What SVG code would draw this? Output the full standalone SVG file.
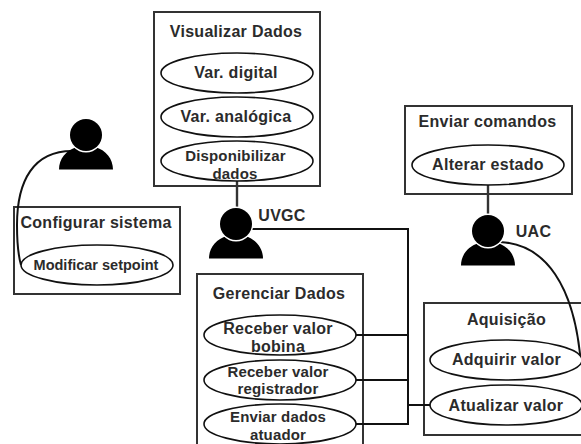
<svg xmlns="http://www.w3.org/2000/svg" width="581" height="444" viewBox="0 0 581 444">
<defs>
<g id="actor"><path d="M-27 34.500 C-27 24 -20 15 -9 12 C-5 17 5 17 9 12 C20 15 27 24 27 34.500 Z" fill="#000"/><circle cx="0" cy="0" r="17.500" fill="#fff"/><circle cx="0" cy="0" r="16" fill="#000"/></g>
</defs>
<style>
.box{fill:#fff;stroke:#333;stroke-width:2}
.uc{fill:#fff;stroke:#111;stroke-width:1.6}
.c{fill:none;stroke:#111;stroke-width:2}
.c2{fill:none;stroke:#333;stroke-width:2.4}
text{font-family:"Liberation Sans",Arial,sans-serif;font-weight:700;font-size:16px;letter-spacing:.3px;fill:#2b2b2b;text-anchor:middle}
.s{font-size:15px;letter-spacing:.15px}
</style>
<rect width="581" height="444" fill="#fff"/>
<g id="box-visualizar"><rect class="box" x="154" y="12" width="166" height="174"/><text x="236" y="37">Visualizar Dados</text></g>
<g id="box-configurar"><rect class="box" x="14" y="207" width="166" height="87"/><text x="96" y="228">Configurar sistema</text></g>
<g id="box-gerenciar"><rect class="box" x="197" y="274" width="166" height="180"/><text x="279" y="299">Gerenciar Dados</text></g>
<g id="box-aquisicao"><rect class="box" x="424" y="303" width="170" height="132"/><text x="506.500" y="325">Aquisição</text></g>
<g id="box-enviar"><rect class="box" x="405" y="106" width="167" height="88"/><text x="487.500" y="127">Enviar comandos</text></g>
<g id="connectors">
<path class="c2" d="M237 181V210"/>
<path class="c2" d="M488 185V220"/>
<path class="c" d="M250 229H408V424H356"/>
<path class="c" d="M356 335H408M356 380H408M408 405H432"/>
<path class="c" d="M72 151C34 151 17 180 17 225C17 245 19 258 21 265"/>
<path class="c" d="M500 242C545 244 575 285 581 365"/>
</g>
<g id="uc-digital"><ellipse class="uc" cx="237" cy="73" rx="76" ry="20"/><text x="236" y="77.500">Var. digital</text></g>
<g id="uc-analogica"><ellipse class="uc" cx="237" cy="117" rx="76" ry="20"/><text x="236" y="121.500">Var. analógica</text></g>
<g id="uc-disponibilizar"><ellipse class="uc" cx="237" cy="161" rx="76" ry="20"/><text class="s" x="235.500" y="161">Disponibilizar</text><text class="s" x="235" y="179">dados</text></g>
<g id="uc-setpoint"><ellipse class="uc" cx="97" cy="265" rx="76" ry="20"/><text x="96" y="270" style="font-size:14.500px;letter-spacing:0">Modificar setpoint</text></g>
<g id="uc-alterar"><ellipse class="uc" cx="488" cy="165" rx="76" ry="20"/><text x="488" y="169.500">Alterar estado</text></g>
<g id="uc-bobina"><ellipse class="uc" cx="280" cy="335" rx="76" ry="20"/><text x="278" y="334">Receber valor</text><text x="278" y="352">bobina</text></g>
<g id="uc-registrador"><ellipse class="uc" cx="280" cy="380" rx="76" ry="20"/><text class="s" x="278" y="377">Receber valor</text><text class="s" x="278" y="393.500">registrador</text></g>
<g id="uc-atuador"><ellipse class="uc" cx="280" cy="424" rx="76" ry="20"/><text class="s" x="278" y="422">Enviar dados</text><text class="s" x="278" y="440">atuador</text></g>
<g id="uc-adquirir"><ellipse class="uc" cx="506" cy="360" rx="76" ry="20"/><text x="506.500" y="365">Adquirir valor</text></g>
<g id="uc-atualizar"><ellipse class="uc" cx="506" cy="405" rx="76" ry="20"/><text x="506" y="411">Atualizar valor</text></g>
<g id="actor-admin"><use href="#actor" x="86" y="135"/></g>
<g id="actor-uvgc"><use href="#actor" x="236" y="224"/><text x="282" y="221">UVGC</text></g>
<g id="actor-uac"><use href="#actor" x="488" y="231"/><text x="533.500" y="237">UAC</text></g>
</svg>
